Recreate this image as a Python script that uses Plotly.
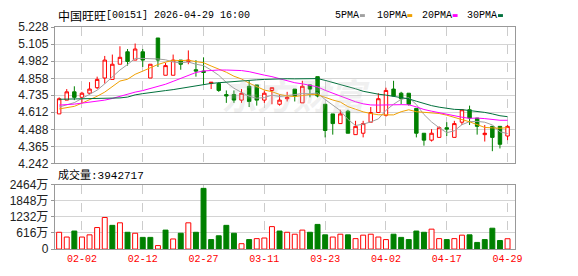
import plotly.graph_objects as go

dates = ["2026-01-28","2026-01-29","2026-01-30","2026-02-02","2026-02-03","2026-02-04","2026-02-05","2026-02-06",
         "2026-02-09","2026-02-10","2026-02-11","2026-02-12","2026-02-13","2026-02-16","2026-02-20","2026-02-23",
         "2026-02-24","2026-02-25","2026-02-26","2026-02-27","2026-03-02","2026-03-03","2026-03-04","2026-03-05",
         "2026-03-06","2026-03-09","2026-03-10","2026-03-11","2026-03-12","2026-03-13","2026-03-16","2026-03-17",
         "2026-03-18","2026-03-19","2026-03-20","2026-03-23","2026-03-24","2026-03-25","2026-03-26","2026-03-27",
         "2026-03-30","2026-03-31","2026-04-01","2026-04-02","2026-04-08","2026-04-09","2026-04-10","2026-04-13",
         "2026-04-14","2026-04-15","2026-04-16","2026-04-17","2026-04-20","2026-04-21","2026-04-22","2026-04-23",
         "2026-04-24","2026-04-27","2026-04-28","2026-04-29"]

opens  = [4.60,4.70,4.76,4.72,4.75,4.79,4.86,4.85,4.96,5.05,4.99,5.05,4.86,5.15,4.88,4.88,4.99,4.98,4.92,4.91,
          4.82,4.82,4.74,4.74,4.70,4.80,4.81,4.70,4.77,4.67,4.71,4.78,4.68,4.81,4.87,4.67,4.60,4.53,4.62,4.45,
          4.46,4.54,4.61,4.59,4.78,4.75,4.75,4.64,4.46,4.41,4.43,4.50,4.43,4.54,4.63,4.57,4.45,4.51,4.51,4.44]
highs  = [4.72,4.78,4.80,4.76,4.83,4.87,5.02,5.03,5.09,5.07,5.11,5.07,4.96,5.15,4.97,5.03,4.99,5.06,4.99,5.01,
          4.83,4.83,4.77,4.77,4.78,4.84,4.81,4.77,4.79,4.74,4.76,4.78,4.84,4.81,4.87,4.67,4.60,4.63,4.63,4.55,
          4.55,4.65,4.75,4.79,4.84,4.76,4.75,4.64,4.46,4.49,4.51,4.54,4.55,4.63,4.66,4.57,4.52,4.51,4.51,4.52]
lows   = [4.60,4.70,4.70,4.68,4.74,4.78,4.82,4.85,4.96,4.95,4.99,4.94,4.86,4.94,4.88,4.88,4.92,4.96,4.87,4.81,
          4.78,4.76,4.68,4.68,4.68,4.65,4.66,4.68,4.67,4.66,4.69,4.69,4.68,4.72,4.72,4.43,4.45,4.53,4.46,4.45,
          4.43,4.54,4.61,4.58,4.73,4.67,4.66,4.43,4.37,4.40,4.43,4.44,4.43,4.52,4.52,4.45,4.40,4.33,4.35,4.41]
closes = [4.71,4.76,4.72,4.75,4.78,4.85,4.99,4.96,5.01,4.98,5.07,4.99,4.96,4.99,4.95,4.99,4.96,4.99,4.91,4.90,
          4.83,4.77,4.73,4.70,4.75,4.69,4.70,4.75,4.79,4.70,4.72,4.73,4.80,4.78,4.73,4.48,4.53,4.60,4.46,4.51,
          4.53,4.61,4.71,4.77,4.73,4.71,4.67,4.46,4.41,4.46,4.50,4.49,4.53,4.63,4.57,4.51,4.46,4.43,4.38,4.51]

# volume in 万 (10k shares)
volume = [641,459,688,459,543,821,1206,905,1002,641,604,446,446,133,724,386,604,1002,641,2317,
          362,507,905,604,205,362,398,422,857,688,641,567,724,641,941,543,459,567,543,398,
          531,567,459,362,567,446,362,688,641,760,398,362,398,531,543,253,362,796,326,394.27]

ma5  = [4.650,4.666,4.682,4.712,4.744,4.772,4.818,4.866,4.918,4.958,5.002,5.002,5.002,4.998,4.992,4.976,4.970,4.976,4.960,4.950,
        4.918,4.880,4.828,4.786,4.756,4.728,4.714,4.718,4.736,4.726,4.732,4.738,4.748,4.746,4.752,4.704,4.664,4.624,4.560,4.516,
        4.526,4.542,4.564,4.626,4.670,4.706,4.718,4.668,4.596,4.542,4.500,4.464,4.478,4.522,4.544,4.546,4.540,4.520,4.470,4.458]
ma10 = [4.636,4.643,4.655,4.678,4.701,4.728,4.758,4.797,4.838,4.851,4.887,4.910,4.934,4.958,4.975,4.989,4.986,4.989,4.979,4.971,
        4.947,4.925,4.902,4.873,4.853,4.823,4.797,4.773,4.761,4.741,4.730,4.726,4.733,4.741,4.739,4.718,4.701,4.686,4.653,4.634,
        4.615,4.603,4.594,4.593,4.593,4.616,4.630,4.616,4.611,4.606,4.603,4.591,4.573,4.559,4.543,4.523,4.502,4.499,4.496,4.501]
ma20 = [4.664,4.666,4.671,4.678,4.685,4.694,4.700,4.712,4.728,4.742,4.758,4.769,4.785,4.797,4.815,4.836,4.858,4.880,4.900,4.911,
        4.917,4.918,4.918,4.916,4.914,4.906,4.892,4.881,4.870,4.856,4.839,4.826,4.818,4.807,4.796,4.771,4.749,4.730,4.707,4.688,
        4.673,4.665,4.664,4.667,4.666,4.667,4.666,4.651,4.632,4.620,4.609,4.597,4.584,4.576,4.568,4.570,4.566,4.558,4.554,4.554]
ma30 = [4.706,4.707,4.708,4.709,4.710,4.711,4.712,4.714,4.716,4.722,4.738,4.747,4.756,4.762,4.769,4.776,4.786,4.796,4.803,4.814,
        4.821,4.826,4.831,4.834,4.838,4.843,4.847,4.850,4.853,4.854,4.855,4.854,4.856,4.857,4.856,4.843,4.828,4.816,4.798,4.782,
        4.764,4.751,4.743,4.736,4.728,4.719,4.709,4.692,4.675,4.660,4.649,4.640,4.633,4.631,4.625,4.619,4.611,4.600,4.587,4.580]

price_ticks = [4.242, 4.365, 4.488, 4.612, 4.735, 4.858, 4.982, 5.105, 5.228]
price_labels = ["4.242", "4.365", "4.488", "4.612", "4.735", "4.858", "4.982", "5.105", "5.228"]
vol_ticks = [0, 616, 1232, 1848, 2464]
vol_labels = ["0", "616万", "1232万", "1848万", "2464万"]
x_tick_dates = ["2026-02-02", "2026-02-12", "2026-02-27", "2026-03-11", "2026-03-23", "2026-04-02", "2026-04-17", "2026-04-29"]
x_tick_labels = [d[5:] for d in x_tick_dates]

title_cn = "中国旺旺"
title_rest = "[00151] 2026-04-29 16:00"
vol_title = "成交量:3942717"
ma_names = ["5PMA", "10PMA", "20PMA", "30PMA"]
watermark = "东方财富"

RED = "#ff0000"
GREEN = "#008000"
MA_COLORS = ["#a0a0a0", "#f0a000", "#ff00ff", "#00703c"]
W, H = 578, 276

# volume colour follows close vs previous close
vol_up = []
for i, c in enumerate(closes):
    prev = closes[i - 1] if i > 0 else opens[0]
    vol_up.append(c >= prev)
vol_fill = ["#ffffff" if u else GREEN for u in vol_up]
vol_line = [RED if u else GREEN for u in vol_up]

fig = go.Figure()
for name, vals, col in zip(ma_names, [ma5, ma10, ma20, ma30], MA_COLORS):
    fig.add_trace(go.Scatter(x=dates, y=vals, mode="lines", line=dict(color=col, width=1),
                             name=name, xaxis="x", yaxis="y", hoverinfo="skip"))
fig.add_trace(go.Candlestick(
    x=dates, open=opens, high=highs, low=lows, close=closes,
    increasing=dict(line=dict(color=RED, width=1), fillcolor="#ffffff"),
    decreasing=dict(line=dict(color=GREEN, width=1), fillcolor=GREEN),
    whiskerwidth=0, xaxis="x", yaxis="y", name="K"))
fig.add_trace(go.Bar(x=dates, y=volume, marker=dict(color=vol_fill, line=dict(color=vol_line, width=1)),
                     xaxis="x2", yaxis="y2", name="vol"))

x0, x1 = 55.5 / W, 522 / W
py_top, py_bot = 1 - 21.3 / H, 1 - 164.7 / H
vy_top, vy_bot = 1 - 187 / H, 1 - 255 / H
xr = [-0.58, 59.95]

axis_common = dict(showline=True, linecolor="#999999", linewidth=1, mirror=True, zeroline=False)
fig.update_layout(
    width=W, height=H, margin=dict(l=0, r=0, t=0, b=0),
    paper_bgcolor="#ffffff", plot_bgcolor="#ffffff",
    showlegend=False, boxgap=0.35, bargap=0.35,
    xaxis=dict(domain=[x0, x1], type="category", range=xr, rangeslider=dict(visible=False),
               tickvals=x_tick_dates, showticklabels=False, ticks="",
               showgrid=True, gridcolor="#cccccc", griddash="dash", gridwidth=1, anchor="y", **axis_common),
    yaxis=dict(domain=[py_bot, py_top], range=[4.242, 5.228], tickvals=price_ticks, ticktext=price_labels,
               showgrid=True, gridcolor="#d4d4d4", gridwidth=1, ticks="outside", ticklen=3, tickcolor="#999999",
               tickfont=dict(family="Liberation Sans, Arial", size=12, color="#222222"), anchor="x", **axis_common),
    xaxis2=dict(domain=[x0, x1], type="category", range=xr, matches="x",
                tickvals=x_tick_dates, ticktext=x_tick_labels, ticks="",
                tickfont=dict(family="Liberation Mono, monospace", size=10, color=RED),
                showgrid=True, gridcolor="#cccccc", griddash="dash", gridwidth=1, anchor="y2", **axis_common),
    yaxis2=dict(domain=[vy_bot, vy_top], range=[0, 2464], tickvals=vol_ticks, ticktext=vol_labels,
                showgrid=True, gridcolor="#d4d4d4", gridwidth=1, ticks="outside", ticklen=3, tickcolor="#999999",
                tickfont=dict(family="Liberation Sans, Noto Sans CJK SC", size=12, color="#222222"), anchor="x2", **axis_common),
)

ann = []
# faint background watermark
ann.append(dict(text=watermark, x=300 / W, y=1 - 92 / H, xref="paper", yref="paper", xanchor="center", yanchor="middle",
                showarrow=False, font=dict(family="Noto Sans CJK SC", size=36, color="rgba(190,190,190,0.22)",
                                           weight="bold", style="italic")))
ann.append(dict(text=title_cn, x=56.5 / W, y=1 - 8.5 / H, xref="paper", yref="paper", xanchor="left", yanchor="middle",
                showarrow=False, font=dict(family="Noto Sans CJK SC", size=12, color="#000000")))
ann.append(dict(text=title_rest, x=105.5 / W, y=1 - 8.5 / H, xref="paper", yref="paper", xanchor="left", yanchor="middle",
                showarrow=False, font=dict(family="Liberation Mono, monospace", size=10, color="#000000")))
leg_x = [338, 380, 426, 472]
for lx, name, col in zip(leg_x, ma_names, MA_COLORS):
    ann.append(dict(text=name, x=lx / W, y=1 - 9 / H, xref="paper", yref="paper", xanchor="left", yanchor="middle",
                    showarrow=False, font=dict(family="Liberation Mono, monospace", size=10, color="#000000")))
    sx = lx + len(name) * 6 + 3
    fig.add_shape(type="rect", xref="paper", yref="paper", x0=sx / W, x1=(sx + 5) / W,
                  y0=1 - 10.5 / H, y1=1 - 7.5 / H, fillcolor=col, line=dict(width=0))
ann.append(dict(text=vol_title, x=56.5 / W, y=1 - 177 / H, xref="paper", yref="paper", xanchor="left", yanchor="middle",
                showarrow=False, font=dict(family="Liberation Mono, Noto Sans CJK SC", size=11, color="#000000")))
fig.update_layout(annotations=ann)

fig.write_html("out.html")
